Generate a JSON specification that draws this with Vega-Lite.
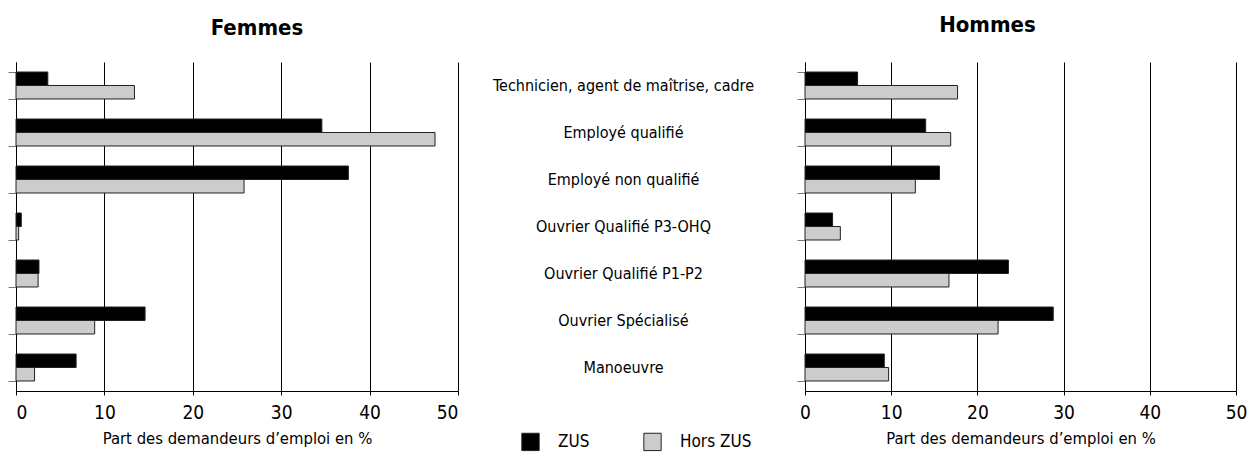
{
  "$schema": "https://vega.github.io/schema/vega-lite/v6.json",
  "padding": {"left": 7, "top": 14, "right": 0, "bottom": 0},
  "background": "white",
  "config": {
    "font": "DejaVu Sans Condensed, Liberation Sans Narrow, Liberation Sans, sans-serif",
    "view": {"stroke": null},
    "concat": {"spacing": 33}
  },
  "data": {
    "values": [
      {"sexe": "Femmes", "cat": "Technicien, agent de maîtrise, cadre", "serie": "ZUS", "val": 3.6},
      {"sexe": "Femmes", "cat": "Technicien, agent de maîtrise, cadre", "serie": "Hors ZUS", "val": 13.4},
      {"sexe": "Femmes", "cat": "Employé qualifié", "serie": "ZUS", "val": 34.6},
      {"sexe": "Femmes", "cat": "Employé qualifié", "serie": "Hors ZUS", "val": 47.4},
      {"sexe": "Femmes", "cat": "Employé non qualifié", "serie": "ZUS", "val": 37.6},
      {"sexe": "Femmes", "cat": "Employé non qualifié", "serie": "Hors ZUS", "val": 25.8},
      {"sexe": "Femmes", "cat": "Ouvrier Qualifié P3-OHQ", "serie": "ZUS", "val": 0.6},
      {"sexe": "Femmes", "cat": "Ouvrier Qualifié P3-OHQ", "serie": "Hors ZUS", "val": 0.3},
      {"sexe": "Femmes", "cat": "Ouvrier Qualifié P1-P2", "serie": "ZUS", "val": 2.6},
      {"sexe": "Femmes", "cat": "Ouvrier Qualifié P1-P2", "serie": "Hors ZUS", "val": 2.5},
      {"sexe": "Femmes", "cat": "Ouvrier Spécialisé", "serie": "ZUS", "val": 14.6},
      {"sexe": "Femmes", "cat": "Ouvrier Spécialisé", "serie": "Hors ZUS", "val": 8.9},
      {"sexe": "Femmes", "cat": "Manoeuvre", "serie": "ZUS", "val": 6.8},
      {"sexe": "Femmes", "cat": "Manoeuvre", "serie": "Hors ZUS", "val": 2.1},
      {"sexe": "Hommes", "cat": "Technicien, agent de maîtrise, cadre", "serie": "ZUS", "val": 6.1},
      {"sexe": "Hommes", "cat": "Technicien, agent de maîtrise, cadre", "serie": "Hors ZUS", "val": 17.7},
      {"sexe": "Hommes", "cat": "Employé qualifié", "serie": "ZUS", "val": 14.0},
      {"sexe": "Hommes", "cat": "Employé qualifié", "serie": "Hors ZUS", "val": 16.9},
      {"sexe": "Hommes", "cat": "Employé non qualifié", "serie": "ZUS", "val": 15.6},
      {"sexe": "Hommes", "cat": "Employé non qualifié", "serie": "Hors ZUS", "val": 12.8},
      {"sexe": "Hommes", "cat": "Ouvrier Qualifié P3-OHQ", "serie": "ZUS", "val": 3.2},
      {"sexe": "Hommes", "cat": "Ouvrier Qualifié P3-OHQ", "serie": "Hors ZUS", "val": 4.1},
      {"sexe": "Hommes", "cat": "Ouvrier Qualifié P1-P2", "serie": "ZUS", "val": 23.6},
      {"sexe": "Hommes", "cat": "Ouvrier Qualifié P1-P2", "serie": "Hors ZUS", "val": 16.7},
      {"sexe": "Hommes", "cat": "Ouvrier Spécialisé", "serie": "ZUS", "val": 28.8},
      {"sexe": "Hommes", "cat": "Ouvrier Spécialisé", "serie": "Hors ZUS", "val": 22.4},
      {"sexe": "Hommes", "cat": "Manoeuvre", "serie": "ZUS", "val": 9.2},
      {"sexe": "Hommes", "cat": "Manoeuvre", "serie": "Hors ZUS", "val": 9.7}
    ]
  },
  "resolve": {"scale": {"color": "shared", "x": "independent", "y": "independent"}, "legend": {"color": "shared"}},
  "hconcat": [
    {
      "width": 442,
      "height": 329,
      "title": {"text": "Femmes", "fontSize": 22, "fontWeight": "bold", "baseline": "alphabetic", "offset": 5, "dx": 20},
      "transform": [{"filter": "datum.sexe === 'Femmes'"}],
      "mark": {"type": "bar", "stroke": "#222", "strokeWidth": 1},
      "encoding": {
        "y": {
          "field": "cat", "type": "nominal",
          "sort": ["Technicien, agent de maîtrise, cadre", "Employé qualifié", "Employé non qualifié", "Ouvrier Qualifié P3-OHQ", "Ouvrier Qualifié P1-P2", "Ouvrier Spécialisé", "Manoeuvre"],
          "scale": {"paddingInner": 0.426, "paddingOuter": 0.213},
          "axis": {"title": null, "labels": false, "tickBand": "extent", "tickSize": 8, "tickColor": "#777", "domainColor": "#000", "grid": false}
        },
        "yOffset": {"field": "serie", "type": "nominal", "sort": ["ZUS", "Hors ZUS"], "scale": {"paddingInner": 0, "paddingOuter": 0}},
        "x": {
          "field": "val", "type": "quantitative",
          "scale": {"domain": [0, 50], "nice": false},
          "axis": {"title": "Part des demandeurs d’emploi en %", "titleFontSize": 16.5, "titleFontWeight": "normal", "titleColor": "#000", "titlePadding": 8,
                   "values": [0, 10, 20, 30, 40, 50], "labelFontSize": 19, "labelColor": "#000", "labelFlush": true, "labelPadding": 8,
                   "grid": true, "gridColor": "#000", "gridOpacity": 1, "gridWidth": 1, "tickColor": "#000", "tickSize": 4, "domainColor": "#000"}
        },
        "color": {
          "field": "serie", "type": "nominal",
          "scale": {"domain": ["ZUS", "Hors ZUS"], "range": ["#000000", "#cccccc"]},
          "legend": {"title": null, "orient": "none", "direction": "horizontal", "legendX": 505, "legendY": 370, "padding": 0,
                     "symbolType": "square", "symbolSize": 300, "symbolStrokeColor": "#333", "symbolStrokeWidth": 1, "symbolOpacity": 1,
                     "labelFontSize": 17, "labelColor": "#000", "labelOffset": 18, "columnPadding": 51}
        }
      }
    },
    {
      "width": 431,
      "height": 329,
      "title": {"text": "Hommes", "fontSize": 22, "fontWeight": "bold", "baseline": "alphabetic", "offset": 0, "dx": -33},
      "transform": [{"filter": "datum.sexe === 'Hommes'"}],
      "mark": {"type": "bar", "stroke": "#222", "strokeWidth": 1},
      "encoding": {
        "y": {
          "field": "cat", "type": "nominal",
          "sort": ["Technicien, agent de maîtrise, cadre", "Employé qualifié", "Employé non qualifié", "Ouvrier Qualifié P3-OHQ", "Ouvrier Qualifié P1-P2", "Ouvrier Spécialisé", "Manoeuvre"],
          "scale": {"paddingInner": 0.426, "paddingOuter": 0.213},
          "axis": {"title": null, "labels": true, "labelAlign": "center", "labelBaseline": "middle", "labelPadding": 174, "labelFontSize": 16, "labelColor": "#000", "labelLimit": 400,
                   "tickBand": "extent", "tickSize": 8, "tickColor": "#777", "domainColor": "#000", "grid": false}
        },
        "yOffset": {"field": "serie", "type": "nominal", "sort": ["ZUS", "Hors ZUS"], "scale": {"paddingInner": 0, "paddingOuter": 0}},
        "x": {
          "field": "val", "type": "quantitative",
          "scale": {"domain": [0, 50], "nice": false},
          "axis": {"title": "Part des demandeurs d’emploi en %", "titleFontSize": 16.5, "titleFontWeight": "normal", "titleColor": "#000", "titlePadding": 8,
                   "values": [0, 10, 20, 30, 40, 50], "labelFontSize": 19, "labelColor": "#000", "labelFlush": false, "labelPadding": 8,
                   "grid": true, "gridColor": "#000", "gridOpacity": 1, "gridWidth": 1, "tickColor": "#000", "tickSize": 4, "domainColor": "#000"}
        },
        "color": {
          "field": "serie", "type": "nominal",
          "scale": {"domain": ["ZUS", "Hors ZUS"], "range": ["#000000", "#cccccc"]}
        }
      }
    }
  ]
}
